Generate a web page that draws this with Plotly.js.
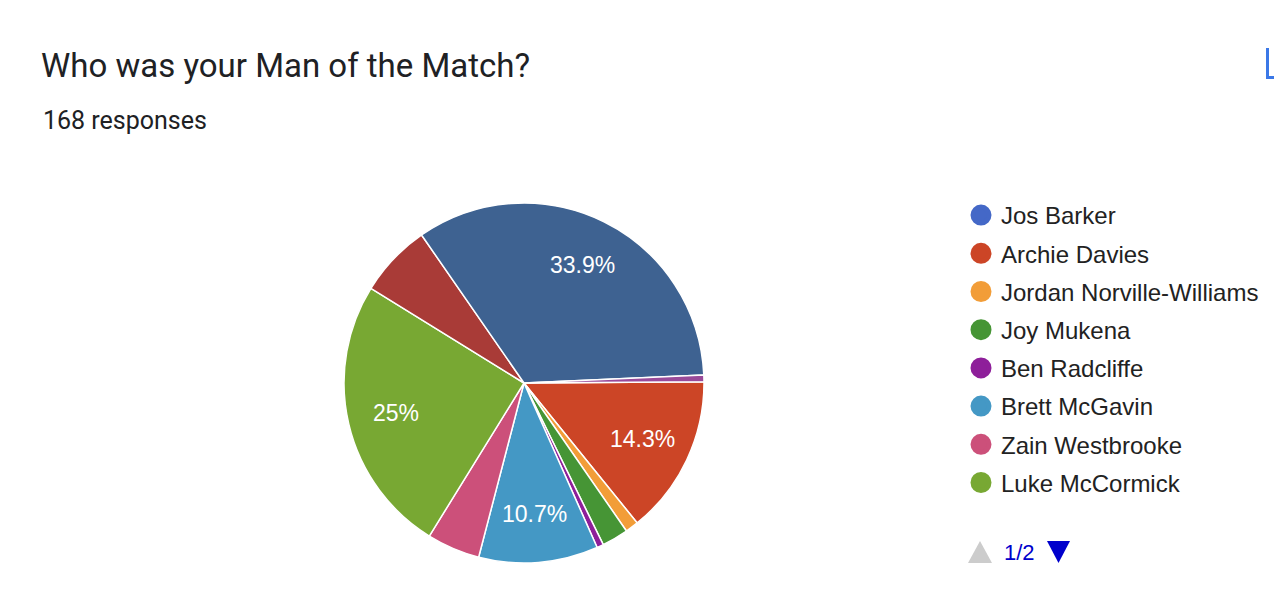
<!DOCTYPE html>
<html>
<head>
<meta charset="utf-8">
<script src="https://cdn.plot.ly/plotly-3.0.1.min.js"></script>
<style>html,body{margin:0;padding:0;background:#fff;} #chart{width:1274px;height:610px;}</style>
</head>
<body>
<div id="chart"></div>
<script>
// ---- data ----
const players = ["Jos Barker", "Archie Davies", "Jordan Norville-Williams", "Joy Mukena", "Ben Radcliffe",
                 "Brett McGavin", "Zain Westbrooke", "Luke McCormick", "Player 9 (page 2)", "Player 10 (page 2)", "Player 11 (page 2)"];
const votes = [0, 24, 2, 4, 1, 18, 8, 42, 11, 57, 1];
const sliceColors = ["#4468c7", "#cc4526", "#f29d38", "#469535", "#8e1f9a", "#4498c5", "#cc507a", "#78a833", "#a93b37", "#3e6291", "#994a99"];
const legendPage1 = 8;   // legend shows page 1 of 2
const pageLabel = "1/2";
const totalResponses = 168;

// ---- geometry / style ----
const W = 1274, H = 610;
const pieCx = 524, pieCy = 383, pieR = 180;     // pixels
const startAngle = 89.6;                          // degrees clockwise from 12 o'clock
const labelRadius = 0.73;                         // fraction of the radius for slice labels
const minLabelShare = 0.1;                        // only big slices get a label

const total = votes.reduce((a, b) => a + b, 0);

function formatPct(share) {
  let s = (share * 100).toPrecision(3);
  if (s.indexOf(".") !== -1) s = s.replace(/\.?0+$/, "");
  return s + "%";
}

// slice labels, positioned at the middle angle of each slice
const labelAnnotations = [];
let cum = 0;
votes.forEach((v) => {
  const share = v / total;
  const mid = (startAngle + (cum + v / 2) / total * 360) * Math.PI / 180;
  cum += v;
  if (share >= minLabelShare) {
    labelAnnotations.push({
      text: formatPct(share),
      xref: "paper", yref: "paper",
      x: (pieCx + labelRadius * pieR * Math.sin(mid)) / W,
      y: 1 - (pieCy - labelRadius * pieR * Math.cos(mid)) / H,
      xanchor: "center", yanchor: "middle", showarrow: false,
      font: { family: "Liberation Sans, Arial, sans-serif", size: 23, color: "#ffffff" }
    });
  }
});

const traces = [{
  type: "pie",
  labels: players,
  values: votes,
  sort: false,
  direction: "clockwise",
  rotation: startAngle,
  marker: { colors: sliceColors, line: { color: "#ffffff", width: 1.5 } },
  textinfo: "none",
  showlegend: false,
  domain: { x: [(pieCx - pieR) / W, (pieCx + pieR) / W], y: [(H - pieCy - pieR) / H, (H - pieCy + pieR) / H] },
  hoverinfo: "label+value+percent"
}];

for (let i = 0; i < legendPage1; i++) {
  traces.push({
    type: "scatter", mode: "markers", x: [null], y: [null],
    name: players[i], legendgroup: "g" + i,
    marker: { color: sliceColors[i], size: 16, symbol: "circle", line: { color: sliceColors[i], width: 5 } },
    hoverinfo: "skip"
  });
}

const layout = {
  width: W, height: H,
  margin: { l: 0, r: 0, t: 0, b: 0 },
  paper_bgcolor: "#ffffff", plot_bgcolor: "#ffffff",
  title: {
    text: "Who was your Man of the Match?",
    font: { family: "Roboto, sans-serif", size: 33, color: "#202124" },
    xref: "container", yref: "container",
    x: 41 / W, xanchor: "left", y: 1 - 65 / H, yanchor: "middle"
  },
  xaxis: { visible: false, fixedrange: true },
  yaxis: { visible: false, fixedrange: true },
  showlegend: true,
  legend: {
    x: (981 - 20) / W, xanchor: "left",
    y: 1 - 193 / H, yanchor: "top",
    font: { family: "Liberation Sans, Arial, sans-serif", size: 24, color: "#222222" },
    traceorder: "grouped", tracegroupgap: 4,
    itemsizing: "trace", itemwidth: 30,
    bgcolor: "rgba(0,0,0,0)", borderwidth: 0
  },
  annotations: [
    {
      text: totalResponses + " responses",
      xref: "paper", yref: "paper", x: 41 / W, y: 1 - 120 / H,
      xanchor: "left", yanchor: "middle", showarrow: false,
      font: { family: "Roboto, sans-serif", size: 25, color: "#202124" }
    },
    {
      text: pageLabel,
      xref: "paper", yref: "paper", x: 1002 / W, y: 1 - 552 / H,
      xanchor: "left", yanchor: "middle", showarrow: false,
      font: { family: "Liberation Sans, Arial, sans-serif", size: 22, color: "#0000cc" }
    }
  ].concat(labelAnnotations),
  shapes: [
    // page-up arrow (disabled, grey)
    { type: "path", xref: "paper", yref: "paper",
      path: `M ${968 / W},${1 - 563 / H} L ${992 / W},${1 - 563 / H} L ${980 / W},${1 - 541 / H} Z`,
      fillcolor: "#cccccc", line: { width: 0 } },
    // page-down arrow (active, blue)
    { type: "path", xref: "paper", yref: "paper",
      path: `M ${1047 / W},${1 - 541 / H} L ${1070 / W},${1 - 541 / H} L ${1058.5 / W},${1 - 563 / H} Z`,
      fillcolor: "#0000cc", line: { width: 0 } },
    // partially visible copy icon at the top right
    { type: "path", xref: "paper", yref: "paper",
      path: `M ${1267.5 / W},${1 - 48 / H} L ${1267.5 / W},${1 - 77.5 / H} L ${1274 / W},${1 - 77.5 / H}`,
      line: { color: "#3b78e7", width: 3 } }
  ]
};

Plotly.newPlot("chart", traces, layout, { displayModeBar: false });
</script>
</body>
</html>
